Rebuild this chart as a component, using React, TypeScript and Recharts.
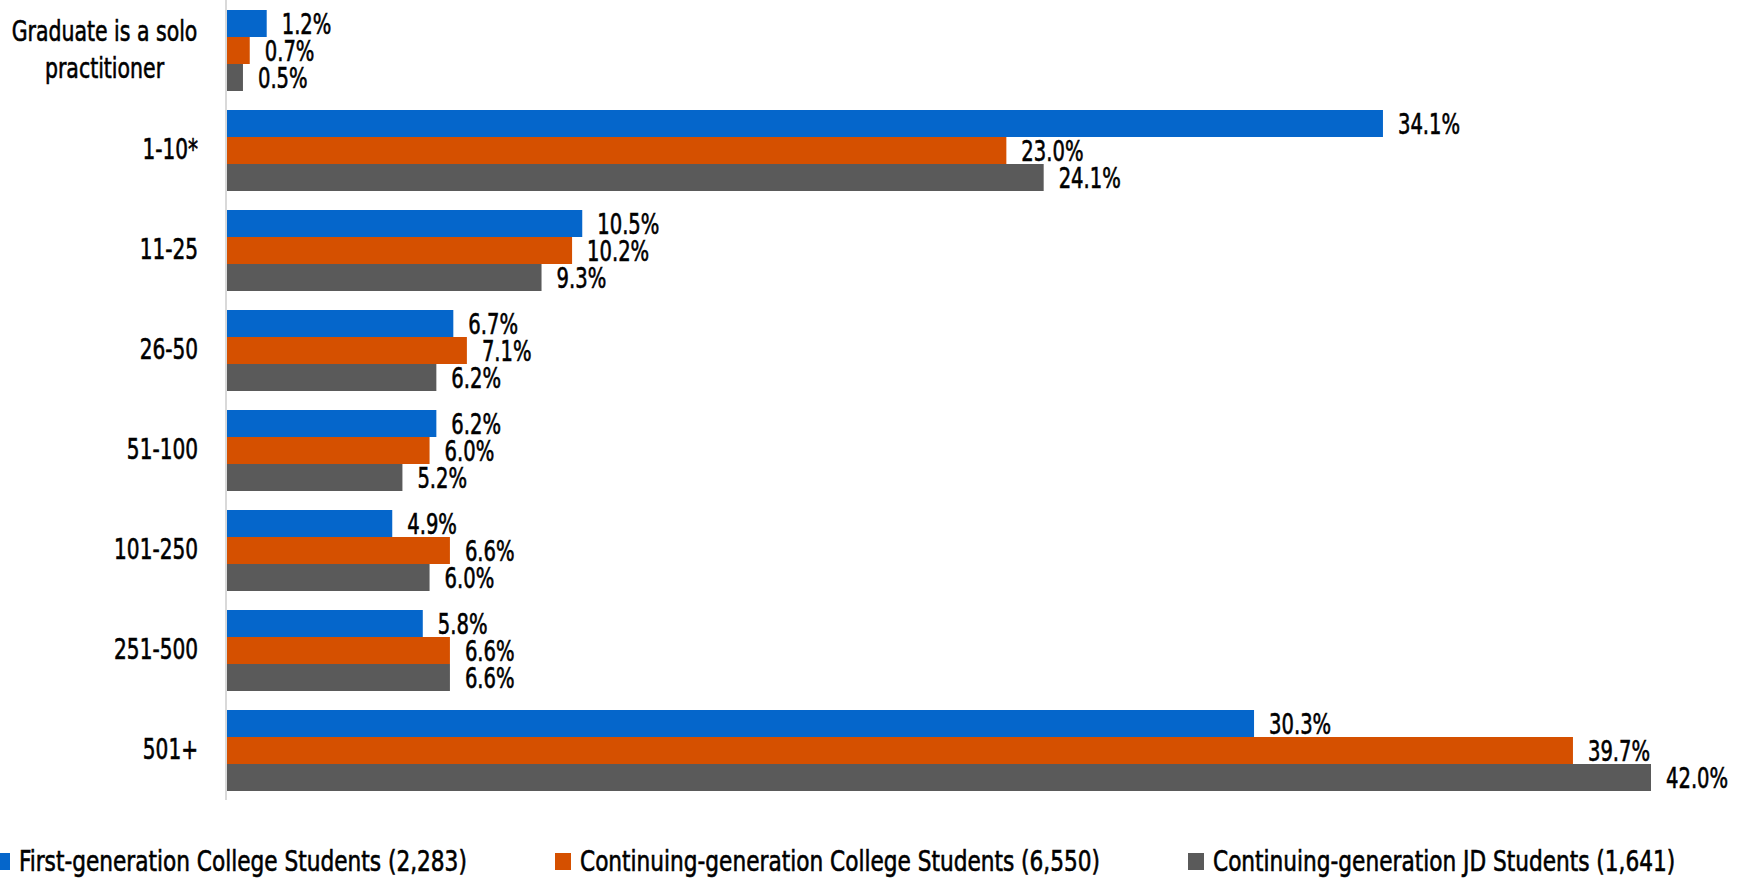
import React from "react";
import { BarChart, Bar, XAxis, YAxis, Legend, LabelList } from "recharts";

const categories = [
  "Graduate is a solo practitioner",
  "1-10*",
  "11-25",
  "26-50",
  "51-100",
  "101-250",
  "251-500",
  "501+",
];
const firstGen = [1.2, 34.1, 10.5, 6.7, 6.2, 4.9, 5.8, 30.3];
const contGen = [0.7, 23.0, 10.2, 7.1, 6.0, 6.6, 6.6, 39.7];
const contJD = [0.5, 24.1, 9.3, 6.2, 5.2, 6.0, 6.6, 42.0];

const seriesNames = [
  "First-generation College Students (2,283)",
  "Continuing-generation College Students (6,550)",
  "Continuing-generation JD Students (1,641)",
];
const seriesKeys = ["first", "cont", "jd"];
const colors = ["#0566CB", "#D55000", "#5A5A5A"];

const data = categories.map((c, i) => ({
  cat: c,
  first: firstGen[i],
  cont: contGen[i],
  jd: contJD[i],
}));

const FONT = "'DejaVu Sans Condensed', 'DejaVu Sans', sans-serif";
const FS = 29;
const STROKE = 0.6;
const LABEL_SX = 0.75;
const TICK_SX = 0.77;
const LEGEND_SX = 0.83;

const CatTick = (props: any) => {
  const { x, y, payload } = props;
  const label: string = payload.value;
  if (label === "Graduate is a solo practitioner") {
    const cx = x - 93.5;
    return (
      <g transform={`translate(${cx},${y}) scale(0.785,1)`}>
        <text x={0} y={0} textAnchor="middle" fontFamily={FONT} fontSize={FS} fill="#000" stroke="#000" strokeWidth={STROKE}>
          <tspan x={0} dy={-9}>Graduate is a solo</tspan>
          <tspan x={0} dy={37}>practitioner</tspan>
        </text>
      </g>
    );
  }
  return (
    <g transform={`translate(${x},${y}) scale(${TICK_SX},1)`}>
      <text x={0} y={0} dy={9} textAnchor="end" fontFamily={FONT} fontSize={FS} fill="#000" stroke="#000" strokeWidth={STROKE}>
        {label}
      </text>
    </g>
  );
};

const ValueLabel = (props: any) => {
  const { x, y, width, height, value } = props;
  const tx = Number(x) + Number(width) + 15;
  const ty = Number(y) + Number(height) / 2;
  return (
    <g transform={`translate(${tx},${ty}) scale(${LABEL_SX},1)`}>
      <text x={0} y={0} dy={10} textAnchor="start" fontFamily={FONT} fontSize={FS} fill="#000" stroke="#000" strokeWidth={STROKE}>
        {Number(value).toFixed(1) + "%"}
      </text>
    </g>
  );
};

const legendLefts = [-6, 555, 1188];

const LegendContent = () => (
  <div style={{ position: "relative", width: 1743, height: 79 }}>
    {seriesNames.map((n, i) => (
      <div
        key={n}
        style={{
          position: "absolute",
          left: legendLefts[i],
          top: 46,
          height: 30,
          display: "flex",
          alignItems: "center",
          whiteSpace: "nowrap",
        }}
      >
        <div style={{ width: 16, height: 17, background: colors[i], marginRight: 9, flex: "none" }} />
        <span
          style={{
            display: "inline-block",
            fontFamily: FONT,
            fontSize: FS,
            color: "#000",
            WebkitTextStroke: `${STROKE}px #000`,
            transform: `scaleX(${LEGEND_SX})`,
            transformOrigin: "left center",
            lineHeight: "30px",
          }}
        >
          {n}
        </span>
      </div>
    ))}
  </div>
);

export default function App() {
  return (
    <div style={{ position: "absolute", left: 0, top: 0, width: 1743, height: 879, background: "#fff" }}>
      <BarChart
        width={1743}
        height={879}
        data={data}
        layout="vertical"
        margin={{ top: 0, right: 92, bottom: 0, left: 0 }}
        barCategoryGap="10%"
        barGap={0}
      >
        <XAxis type="number" domain={[0, 42]} hide />
        <YAxis
          type="category"
          dataKey="cat"
          width={226}
          tickLine={false}
          axisLine={{ stroke: "#D9D9D9", strokeWidth: 2 }}
          tick={<CatTick />}
          tickMargin={22}
          interval={0}
        />
        <Legend verticalAlign="bottom" align="left" content={<LegendContent />} wrapperStyle={{ left: 0, width: 1743 }} />
        {seriesKeys.map((k, i) => (
          <Bar key={k} dataKey={k} name={seriesNames[i]} fill={colors[i]} isAnimationActive={false}>
            <LabelList dataKey={k} content={<ValueLabel />} />
          </Bar>
        ))}
      </BarChart>
    </div>
  );
}
